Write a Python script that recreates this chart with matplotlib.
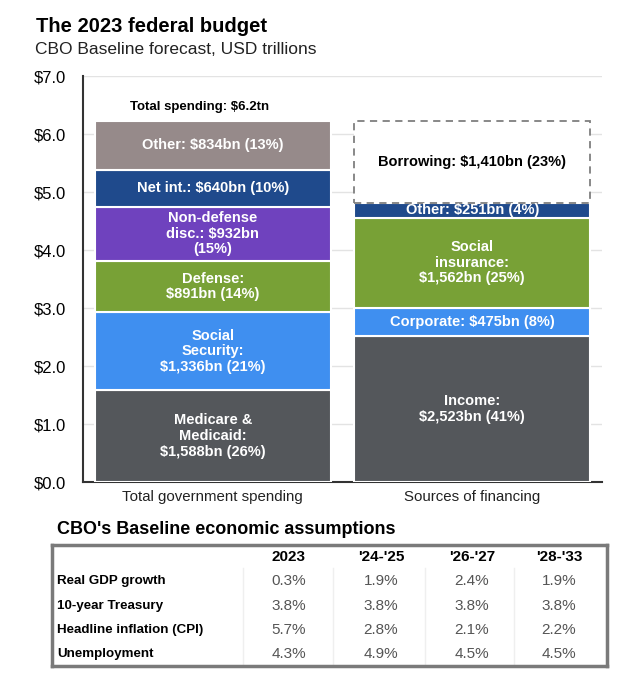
import matplotlib

matplotlib.use("Agg")

import matplotlib.pyplot as plt

plt.rcParams["font.family"] = ["Liberation Sans", "DejaVu Sans"]

# --- data -----------------------------------------------------------------
categories = ["Total government spending", "Sources of financing"]

spend_values = [1.588, 1.336, 0.891, 0.932, 0.640, 0.834]
spend_labels = [
    "Medicare &\nMedicaid:\n$1,588bn (26%)",
    "Social\nSecurity:\n$1,336bn (21%)",
    "Defense:\n$891bn (14%)",
    "Non-defense\ndisc.: $932bn\n(15%)",
    "Net int.: $640bn (10%)",
    "Other: $834bn (13%)",
]

finance_values = [2.523, 0.475, 1.562, 0.251, 1.410]
finance_labels = [
    "Income:\n$2,523bn (41%)",
    "Corporate: $475bn (8%)",
    "Social\ninsurance:\n$1,562bn (25%)",
    "Other: $251bn (4%)",
    "Borrowing: $1,410bn (23%)",
]

total_label = "Total spending: $6.2tn"
y_ticks = [0, 1, 2, 3, 4, 5, 6, 7]

table_cols = ["2023", "'24-'25", "'26-'27", "'28-'33"]
table_rows = ["Real GDP growth", "10-year Treasury", "Headline inflation (CPI)", "Unemployment"]
gdp = ["0.3%", "1.9%", "2.4%", "1.9%"]
treasury = ["3.8%", "3.8%", "3.8%", "3.8%"]
cpi = ["5.7%", "2.8%", "2.1%", "2.2%"]
unemployment = ["4.3%", "4.9%", "4.5%", "4.5%"]

# --- styles ---------------------------------------------------------------
GRAY = "#54575b"
BLUE = "#3f8ff0"
GREEN = "#78a136"
PURPLE = "#6f42be"
NAVY = "#1f4a8c"
TAUPE = "#968a8a"
spend_colors = [GRAY, BLUE, GREEN, PURPLE, NAVY, TAUPE]
finance_colors = [GRAY, BLUE, GREEN, NAVY, "white"]

W, H = 623, 683
fig = plt.figure(figsize=(W / 100, H / 100), dpi=100)

fig.text(36 / W, 1 - 26 / H, "The 2023 federal budget", fontsize=14.5, fontweight="bold", va="center")
fig.text(35 / W, 1 - 50 / H, "CBO Baseline forecast, USD trillions", fontsize=12.5, va="center", color="#222222")

ax = fig.add_axes([83 / W, 1 - 482 / H, 519 / W, 406 / H])
bar_w = 0.91
lab_kw = dict(ha="center", va="center", fontsize=10.5, fontweight="bold", linespacing=1.15, zorder=4)

bottom = 0.0
for val, lab, col in zip(spend_values, spend_labels, spend_colors):
    ax.bar(0, val, bottom=bottom, width=bar_w, color=col, edgecolor="white", linewidth=1.5, zorder=3)
    ax.text(0, bottom + val / 2, lab, color="white", **lab_kw)
    bottom += val
ax.text(-0.05, bottom + 0.25, total_label, ha="center", va="center", fontsize=9.5, fontweight="bold")

bottom = 0.0
for i, (val, lab, col) in enumerate(zip(finance_values, finance_labels, finance_colors)):
    if i == len(finance_values) - 1:
        # borrowing: open dashed box on top of the revenue stack
        ax.bar(1, val, bottom=bottom, width=bar_w, color="white", edgecolor="#7f7f7f",
               linewidth=1.3, linestyle=(0, (4, 3)), zorder=3)
        txt_color = "black"
    else:
        ax.bar(1, val, bottom=bottom, width=bar_w, color=col, edgecolor="white", linewidth=1.5, zorder=3)
        txt_color = "white"
    ax.text(1, bottom + val / 2, lab, color=txt_color, **lab_kw)
    bottom += val

ax.set_xlim(-0.5, 1.5)
ax.set_ylim(0, 7)
ax.set_yticks(y_ticks)
ax.set_yticklabels([f"${v:.1f}" for v in y_ticks], fontsize=12)
ax.set_xticks([0, 1])
ax.set_xticklabels(categories, fontsize=10.8, color="#222222")
ax.tick_params(axis="both", length=0, pad=6)
ax.tick_params(axis="y", pad=12)
ax.grid(axis="y", color="#e3e3e3", linewidth=1, zorder=0)
for side in ["top", "right"]:
    ax.spines[side].set_visible(False)
for side in ["left", "bottom"]:
    ax.spines[side].set_color("#333333")
    ax.spines[side].set_linewidth(1.5)

# --- table ----------------------------------------------------------------
fig.text(57 / W, 1 - 529 / H, "CBO's Baseline economic assumptions", fontsize=13, fontweight="bold", va="center")

tx = fig.add_axes([52 / W, 1 - 666 / H, 555 / W, 121 / H])
tx.set_xlim(52, 607)
tx.set_ylim(666, 545)
tx.set_xticks([])
tx.set_yticks([])
for s in tx.spines.values():
    s.set_color("#7a7a7a")
    s.set_linewidth(2.5)

col_x = [289, 381, 472, 559]
sep_x = [243, 333, 425, 514]
row_y = [581, 606, 630, 654]

for x in sep_x:
    tx.plot([x, x], [568, 666], color="#efefef", linewidth=1, zorder=0)
for x, c in zip(col_x, table_cols):
    tx.text(x, 557, c, ha="center", va="center", fontsize=11, fontweight="bold")
for y, name, vals in zip(row_y, table_rows, [gdp, treasury, cpi, unemployment]):
    tx.text(57, y, name, ha="left", va="center", fontsize=9.6, fontweight="bold")
    for x, v in zip(col_x, vals):
        tx.text(x, y, v, ha="center", va="center", fontsize=11, color="#555555")

fig.savefig("out.png", dpi=100)
